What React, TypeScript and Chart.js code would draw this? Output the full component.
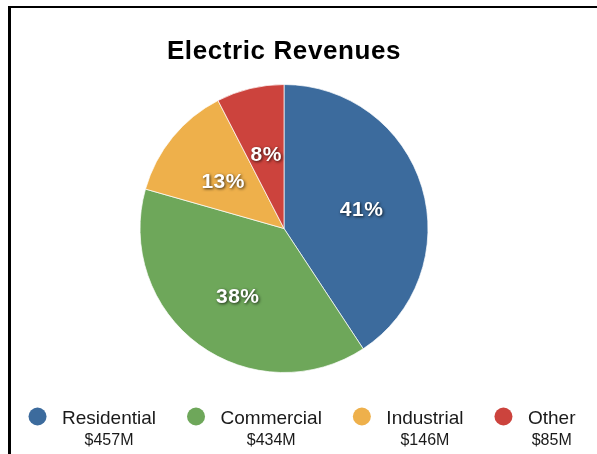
import React, { useEffect, useRef } from "react";
import { Chart, registerables } from "chart.js";

Chart.register(...registerables);

const title = "Electric Revenues";
const categories = ["Residential", "Commercial", "Industrial", "Other"];
const revenues = [457, 434, 146, 85];
const valueLabels = ["$457M", "$434M", "$146M", "$85M"];
const percentLabels = ["41%", "38%", "13%", "8%"];
const colors = ["#3c6b9d", "#6ea75a", "#eeb04b", "#cc433d"];

const FONT = '"Liberation Sans", Arial, Helvetica, sans-serif';

const titlePlugin = {
  id: "customTitle",
  afterDraw(chart: any) {
    const { ctx, chartArea } = chart;
    ctx.save();
    ctx.fillStyle = "#000";
    ctx.font = `bold 26px ${FONT}`;
    (ctx as any).letterSpacing = "0.6px";
    ctx.textAlign = "center";
    ctx.textBaseline = "alphabetic";
    const cx = (chartArea.left + chartArea.right) / 2;
    ctx.fillText(title, cx, 59);
    ctx.restore();
  },
};

const sliceLabelPlugin = {
  id: "sliceLabels",
  afterDatasetsDraw(chart: any) {
    const { ctx } = chart;
    const meta = chart.getDatasetMeta(0);
    ctx.save();
    ctx.font = `bold 21px ${FONT}`;
    (ctx as any).letterSpacing = "0.5px";
    ctx.textAlign = "center";
    ctx.textBaseline = "alphabetic";
    ctx.fillStyle = "#fff";
    ctx.shadowColor = "rgba(0,0,0,0.75)";
    ctx.shadowBlur = 3;
    ctx.shadowOffsetX = 1;
    ctx.shadowOffsetY = 1;
    meta.data.forEach((arc: any, i: number) => {
      const p = arc.getProps(["x", "y", "startAngle", "endAngle", "outerRadius"], true);
      const mid = (p.startAngle + p.endAngle) / 2;
      const r = p.outerRadius * 0.555;
      const x = p.x + Math.cos(mid) * r;
      const y = p.y + Math.sin(mid) * r;
      ctx.fillText(percentLabels[i], x + 1, y + 10);
    });
    ctx.restore();
  },
};

const legendPlugin = {
  id: "customLegend",
  afterDraw(chart: any) {
    const { ctx } = chart;
    const radius = 9;
    const boxToText = 24.5;
    const itemGap = 31;
    const cy = 416.5;
    const rowCenter = 302;
    ctx.save();
    ctx.font = `19px ${FONT}`;
    const widths = categories.map((c) => ctx.measureText(c).width);
    const itemWidths = widths.map((w) => radius + boxToText + w);
    const total = itemWidths.reduce((a, b) => a + b, 0) + itemGap * (categories.length - 1);
    let x = rowCenter - total / 2;
    categories.forEach((c, i) => {
      ctx.fillStyle = colors[i];
      ctx.beginPath();
      ctx.arc(x + radius, cy, radius, 0, Math.PI * 2);
      ctx.fill();
      const tx = x + radius + boxToText;
      ctx.fillStyle = "#1a1a1a";
      ctx.font = `19px ${FONT}`;
      ctx.textAlign = "left";
      ctx.textBaseline = "alphabetic";
      ctx.fillText(c, tx, 423.5);
      ctx.font = `16px ${FONT}`;
      ctx.textAlign = "center";
      ctx.fillText(valueLabels[i], tx + widths[i] / 2, 445);
      x += itemWidths[i] + itemGap;
    });
    ctx.restore();
  },
};

export default function App() {
  const ref = useRef<HTMLCanvasElement | null>(null);
  useEffect(() => {
    if (!ref.current) return;
    const chart = new Chart(ref.current, {
      type: "pie",
      data: {
        labels: categories,
        datasets: [
          {
            data: revenues,
            backgroundColor: colors,
            borderColor: "rgba(255,255,255,0.7)",
            borderWidth: 1,
          },
        ],
      },
      options: {
        responsive: false,
        animation: false,
        layout: { padding: { top: 84, bottom: 81, left: 0, right: 29 } },
        plugins: {
          legend: { display: false },
          title: { display: false },
          tooltip: { enabled: false },
        },
      },
      plugins: [titlePlugin, sliceLabelPlugin, legendPlugin],
    });
    return () => chart.destroy();
  }, []);
  return (
    <div style={{ position: "fixed", left: 0, top: 0, width: 597, height: 454, background: "#fff", overflow: "hidden" }}>
      <canvas ref={ref} width={597} height={454} style={{ position: "absolute", left: 0, top: 0, width: 597, height: 454 }} />
      <div
        style={{
          position: "absolute",
          left: 8,
          top: 6,
          width: 700,
          height: 600,
          borderTop: "2px solid #000",
          borderLeft: "3px solid #000",
          pointerEvents: "none",
        }}
      />
    </div>
  );
}
